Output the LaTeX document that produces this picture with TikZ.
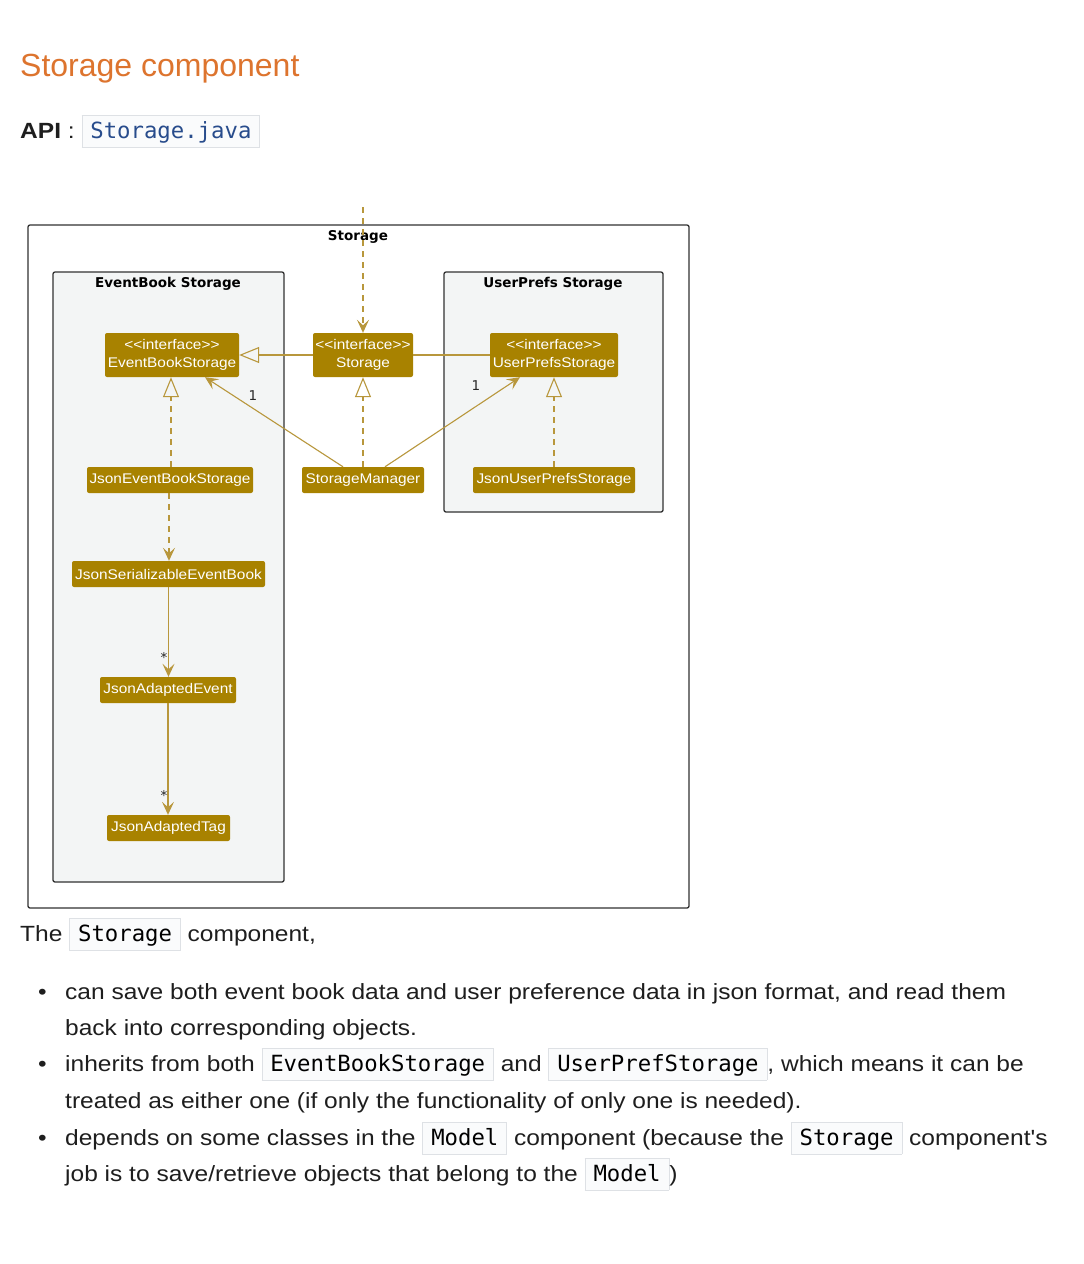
\documentclass[tikz,border=0pt]{standalone}
\usepackage{fontspec}
\setmainfont{Liberation Sans}
\setmonofont{DejaVu Sans Mono}
\newfontfamily\titlefont{DejaVu Sans}
\newfontfamily\bodyfont{Liberation Sans}[FakeStretch=1.115]
\newfontfamily\clsfont{Liberation Sans}[FakeStretch=1.1]
\newfontfamily\headfont{Liberation Sans}
\newfontfamily\codefont{DejaVu Sans Mono}
\usetikzlibrary{arrows.meta}
\definecolor{heading}{RGB}{221,116,46}
\definecolor{codeblue}{RGB}{40,76,140}
\definecolor{codebg}{RGB}{250,251,252}
\definecolor{codeborder}{RGB}{222,225,229}
\definecolor{clsfill}{RGB}{168,130,0}
\definecolor{conn}{RGB}{184,151,60}
\definecolor{pkgfill}{RGB}{243,245,245}
\definecolor{frameline}{RGB}{50,50,50}
\definecolor{bodytext}{RGB}{30,30,30}
\newcommand{\codebox}[2][black]{{\setlength{\fboxsep}{0pt}\setlength{\fboxrule}{0.8pt}\fcolorbox{codeborder}{codebg}{\hspace{8pt}\color{#1}\codefont\fontsize{22.3}{26}\selectfont\rule[-8.5pt]{0pt}{31pt}#2\hspace{8pt}}}}
\tikzset{
  cls/.style={fill=clsfill, draw=none, rounded corners=2pt, text=white, font=\clsfont\fontsize{14}{18}\selectfont, align=center, inner sep=0pt},
  pkg/.style={draw=frameline, line width=1.3pt, fill=pkgfill, rounded corners=2pt},
  outer/.style={draw=frameline, line width=1.3pt, rounded corners=2pt},
  pkgtitle/.style={font=\titlefont\bfseries\fontsize{13.5}{16}\selectfont, text=black},
  vtip/.tip={Stealth[length=13pt,width=12pt,inset=5.5pt]},
  ttip/.tip={Triangle[open,length=20pt,width=16pt]},
  assoc/.style={draw=conn, line width=1.1pt, -vtip},
  dep/.style={draw=conn, line width=1.1pt, dash pattern=on 6pt off 5pt, -vtip},
  real/.style={draw=conn, line width=1.1pt, dash pattern=on 6pt off 5pt, -ttip},
  gen/.style={draw=conn, line width=1.1pt, -ttip},
  plain/.style={draw=conn, line width=1.1pt},
  mult/.style={font=\titlefont\fontsize{13.5}{15}\selectfont, text=black!85},
  body/.style={anchor=base west, inner sep=0pt, font=\bodyfont\fontsize{22}{26}\selectfont, text=bodytext}
}
\begin{document}
\begin{tikzpicture}[x=1pt,y=-1pt]
\useasboundingbox[fill=white] (0,0) rectangle (1084,1264);

% heading
\node[anchor=base west, inner sep=0pt, font=\headfont\fontsize{32}{36}\selectfont, text=heading] (title) at (20,76) {Storage component};
\node[body] (api) at (20,138) {\textbf{API} : \codebox[codeblue]{Storage.java}};

% frames
\draw[outer] (28,225) rectangle (689,908);
\node[pkgtitle] (stitle) at (358,237) {Storage};
\draw[pkg] (53,272) rectangle (284,882);
\node[pkgtitle] (etitle) at (168,284) {EventBook Storage};
\draw[pkg] (444,272) rectangle (663,512);
\node[pkgtitle] (utitle) at (553,284) {UserPrefs Storage};

% classes
\node[cls, minimum width=134pt, minimum height=44pt] (ebs) at (172,355) {<{}<interface>{}>\\EventBookStorage};
\node[cls, minimum width=100pt, minimum height=44pt] (stor) at (363,355) {<{}<interface>{}>\\Storage};
\node[cls, minimum width=128pt, minimum height=44pt] (ups) at (554,355) {<{}<interface>{}>\\UserPrefsStorage};
\node[cls, minimum width=166pt, minimum height=26pt] (jebs) at (170,480) {JsonEventBookStorage};
\node[cls, minimum width=122pt, minimum height=26pt] (sm) at (363,480) {StorageManager};
\node[cls, minimum width=162pt, minimum height=26pt] (jups) at (554,480) {JsonUserPrefsStorage};
\node[cls, minimum width=193pt, minimum height=26pt] (jseb) at (168.5,574) {JsonSerializableEventBook};
\node[cls, minimum width=136pt, minimum height=26pt] (jae) at (168,690) {JsonAdaptedEvent};
\node[cls, minimum width=123pt, minimum height=26pt] (jat) at (168.5,828) {JsonAdaptedTag};

% connectors
\coordinate (top) at (363,207);
\draw[dep] (top) -- (stor.north);
\draw[gen] (stor.west) -- (ebs.east);
\draw[plain] (stor.east) -- (ups.west);
\draw[real] (sm.north) -- (stor.south);
\draw[assoc] ([xshift=-20pt]sm.north) -- ([xshift=33pt]ebs.south);
\node[mult] (m1) at (253,396) {1};
\draw[assoc] ([xshift=22pt]sm.north) -- ([xshift=-34pt]ups.south);
\node[mult] (m2) at (476,386) {1};
\draw[real] (jebs.north -| 171,0) -- (ebs.south -| 171,0);
\draw[real] (jups.north) -- (ups.south);
\draw[dep] (jebs.south -| 169,0) -- (jseb.north -| 169,0);
\draw[assoc] (jseb.south) -- (jae.north -| jseb.south);
\node[mult] (s1) at (164,657) {*};
\draw[assoc] (jae.south) -- (jat.north -| jae.south);
\node[mult] (s2) at (164,795) {*};

% body text
\node[body] (p0) at (20,941) {The \codebox{Storage} component,};
\node[body] (b1) at (38,999) {•};
\node[body] (l1) at (65,999) {can save both event book data and user preference data in json format, and read them};
\node[body] (l2) at (65,1035) {back into corresponding objects.};
\node[body] (b2) at (38,1071) {•};
\node[body] (l3) at (65,1071) {inherits from both \codebox{EventBookStorage} and \codebox{UserPrefStorage}, which means it can be};
\node[body] (l4) at (65,1108) {treated as either one (if only the functionality of only one is needed).};
\node[body] (b3) at (38,1145) {•};
\node[body] (l5) at (65,1145) {depends on some classes in the \codebox{Model} component (because the \codebox{Storage} component's};
\node[body] (l6) at (65,1181) {job is to save/retrieve objects that belong to the \codebox{Model})};
\end{tikzpicture}
\end{document}
